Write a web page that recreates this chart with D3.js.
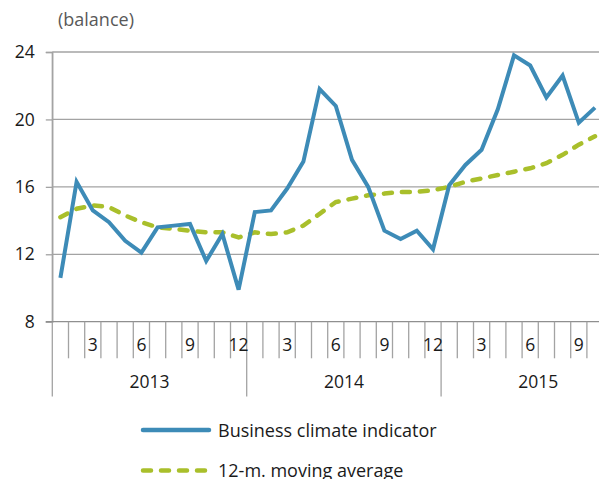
<!DOCTYPE html>
<html lang="en">
<head>
    <meta charset="UTF-8">
    <title>Business climate indicator</title>
    <style>
        body { margin: 0; background: #fff; }
        text { font-family: "Open Sans", sans-serif; }
    </style>
</head>
<body>
<div id="chart"></div>

<script src="https://d3js.org/d3.v7.min.js"></script>

<script>
    // Monthly data, Jan 2013 - Oct 2015
    var years = ["2013", "2014", "2015"];
    var monthLabels = ["", "", "3", "", "", "6", "", "", "9", "", "", "12"];
    var yTicks = [8, 12, 16, 20, 24];

    var indicator = [10.6, 16.3, 14.6, 13.9, 12.8, 12.1, 13.6, 13.7, 13.8, 11.6, 13.2, 9.9,
                     14.5, 14.6, 15.9, 17.5, 21.8, 20.8, 17.6, 16.0, 13.4, 12.9, 13.4, 12.3,
                     16.1, 17.3, 18.2, 20.6, 23.8, 23.2, 21.3, 22.6, 19.8, 20.7];
    var movingAvg = [14.2, 14.7, 14.9, 14.8, 14.3, 13.9, 13.6, 13.5, 13.4, 13.3, 13.3, 13.0,
                     13.3, 13.2, 13.3, 13.7, 14.4, 15.1, 15.3, 15.5, 15.6, 15.7, 15.7, 15.8,
                     16.0, 16.3, 16.5, 16.7, 16.9, 17.1, 17.4, 17.9, 18.5, 19.0];

    var blue = "#3d8bb7", green = "#a9bf2b";

    var width = 599, height = 479;
    var margin = {left: 52.3, top: 52};
    var step = 16.2;
    var nMonths = indicator.length;
    var fs = 17.5;

    var svg = d3.select("#chart").append("svg")
        .attr("width", width)
        .attr("height", height);

    var x = d3.scaleBand().domain(d3.range(nMonths))
        .range([margin.left, margin.left + step * nMonths]);
    var y = d3.scaleLinear().domain([8, 24]).range([321.7, margin.top]);

    // Gridlines
    svg.append("g").selectAll("line")
        .data(yTicks.slice(1))
        .enter().append("line")
        .attr("x1", margin.left).attr("x2", width)
        .attr("y1", d => y(d)).attr("y2", d => y(d))
        .attr("stroke", "#a3a3a3").attr("stroke-width", 1.3);

    // Y axis
    var yAxis = svg.append("g")
        .attr("transform", "translate(" + margin.left + ",0)")
        .call(d3.axisLeft(y).tickValues(yTicks).tickSize(6.5).tickPadding(11));
    yAxis.select(".domain").attr("stroke", "#a3a3a3").attr("stroke-width", 1.3);
    yAxis.selectAll(".tick line").attr("stroke", "#a3a3a3").attr("stroke-width", 1.3);
    yAxis.selectAll("text")
        .attr("font-family", "Open Sans").attr("font-size", fs).attr("fill", "#1a1a1a");

    // left axis extends down through the category area
    svg.append("line")
        .attr("x1", margin.left).attr("x2", margin.left)
        .attr("y1", margin.top).attr("y2", 396.5)
        .attr("stroke", "#a3a3a3").attr("stroke-width", 1.3);

    // X baseline
    svg.append("line")
        .attr("x1", margin.left - 6.5).attr("x2", width)
        .attr("y1", y(8)).attr("y2", y(8))
        .attr("stroke", "#8f8f8f").attr("stroke-width", 1.3);

    // Month ticks
    var months = d3.range(nMonths);
    svg.append("g").selectAll("line")
        .data(months.filter(i => i % 12 !== 0))
        .enter().append("line")
        .attr("x1", i => x(i)).attr("x2", i => x(i))
        .attr("y1", y(8)).attr("y2", 358.3)
        .attr("stroke", "#a3a3a3").attr("stroke-width", 1.3);
    svg.append("g").selectAll("line")
        .data(months.filter(i => i % 12 === 0 && i > 0))
        .enter().append("line")
        .attr("x1", i => x(i)).attr("x2", i => x(i))
        .attr("y1", y(8)).attr("y2", 396.5)
        .attr("stroke", "#a3a3a3").attr("stroke-width", 1.3);

    // Month labels
    svg.append("g").selectAll("text")
        .data(months.filter(i => monthLabels[i % 12] !== ""))
        .enter().append("text")
        .attr("x", i => x(i) + step / 2)
        .attr("y", 351)
        .attr("text-anchor", "middle")
        .attr("font-size", fs).attr("fill", "#1a1a1a")
        .text(i => monthLabels[i % 12]);

    // Year labels
    svg.append("g").selectAll("text")
        .data(years)
        .enter().append("text")
        .attr("x", (d, i) => x(i * 12) + step * 6)
        .attr("y", 388)
        .attr("text-anchor", "middle")
        .attr("font-size", fs).attr("fill", "#1a1a1a")
        .text(d => d);

    // Unit label
    svg.append("text")
        .attr("x", 58).attr("y", 26)
        .attr("font-size", 18).attr("fill", "#595959")
        .text("(balance)");

    // Lines
    var line = d3.line()
        .x((d, i) => x(i) + step / 2)
        .y(d => y(d));

    svg.append("path")
        .datum(movingAvg)
        .attr("d", line)
        .attr("fill", "none")
        .attr("stroke", green)
        .attr("stroke-width", 4.5)
        .attr("stroke-linecap", "round")
        .attr("stroke-dasharray", "8,10");

    svg.append("path")
        .datum(indicator)
        .attr("d", line)
        .attr("fill", "none")
        .attr("stroke", blue)
        .attr("stroke-width", 4)
        .attr("stroke-linejoin", "miter");

    // Legend
    var legend = [
        {name: "Business climate indicator", color: blue, dash: null, y: 430},
        {name: "12-m. moving average", color: green, dash: "8,10", y: 470.5}
    ];
    var lg = svg.append("g").selectAll("g")
        .data(legend)
        .enter().append("g");
    lg.append("line")
        .attr("x1", 143).attr("x2", 209)
        .attr("y1", d => d.y).attr("y2", d => d.y)
        .attr("stroke", d => d.color)
        .attr("stroke-width", 4.5)
        .attr("stroke-linecap", "round")
        .attr("stroke-dasharray", d => d.dash);
    lg.append("text")
        .attr("x", 218)
        .attr("y", d => d.y + 6.5)
        .attr("font-size", 18).attr("fill", "#1a1a1a")
        .text(d => d.name);
</script>

</body>
</html>
